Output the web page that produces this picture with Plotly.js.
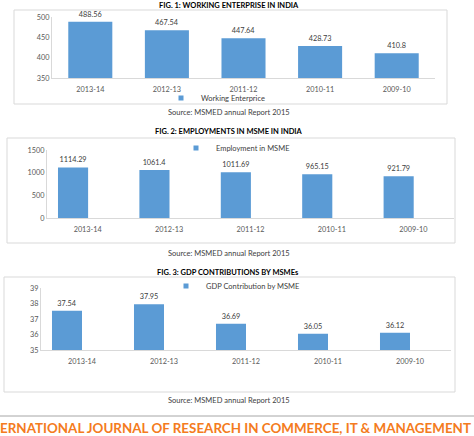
<!DOCTYPE html>
<html>
<head>
<meta charset="utf-8">
<script src="https://cdn.plot.ly/plotly-3.0.1.min.js"></script>
<style>
  html, body { margin: 0; padding: 0; background: #fff; }
  #chart { width: 474px; height: 436px; }
</style>
</head>
<body>
<div id="chart"></div>
<script>
// Financial years shown on every panel
const categories = ['2013-14', '2012-13', '2011-12', '2010-11', '2009-10'];
// Fig. 1: working enterprises (lakh)
const enterprises = [488.56, 467.54, 447.64, 428.73, 410.8];
// Fig. 2: employment in MSME (lakh)
const employment = [1114.29, 1061.4, 1011.69, 965.15, 921.79];
// Fig. 3: share of GDP contributed by MSMEs (%)
const gdpShare = [37.54, 37.95, 36.69, 36.05, 36.12];

const seriesNames = ['Working Enterprice', 'Employment in MSME', 'GDP Contribution by MSME'];
const figTitles = [
  'FIG. 1: WORKING ENTERPRISE IN INDIA',
  'FIG. 2: EMPLOYMENTS IN MSME IN INDIA',
  'FIG. 3: GDP CONTRIBUTIONS BY MSMEs'
];
const sourceNote = 'Source: MSMED annual Report 2015';
const footerText = 'ERNATIONAL JOURNAL OF RESEARCH IN COMMERCE, IT & MANAGEMENT';

const W = 474, H = 436;
const px = v => v / W;          // pixel -> paper x
const py = v => 1 - v / H;      // pixel -> paper y

const BLUE = '#5b9bd5';
const FONT = 'Lato, "Open Sans", sans-serif';
const TXT = '#404040';

function barTrace(values, n, width, offset) {
  const ax = n === 1 ? '' : String(n);
  const t = {
    type: 'bar',
    x: categories,
    y: values,
    xaxis: 'x' + ax,
    yaxis: 'y' + ax,
    marker: { color: BLUE },
    width: width,
    text: values.map(String),
    textposition: 'outside',
    textfont: { family: FONT, size: 7.3, color: TXT },
    cliponaxis: false,
    showlegend: false,
    hoverinfo: 'x+y'
  };
  if (offset !== undefined) t.offset = offset;
  return t;
}

// legend swatch entries (small square marker, no data points)
function legendEntry(name, n) {
  return {
    type: 'scatter', mode: 'markers',
    x: [null], y: [null],
    xaxis: 'x' + (n === 1 ? '' : n), yaxis: 'y' + (n === 1 ? '' : n),
    marker: { symbol: 'square', size: 5, color: BLUE },
    name: name,
    legend: n === 1 ? 'legend' : 'legend' + n,
    showlegend: true,
    hoverinfo: 'skip'
  };
}

const data = [
  barTrace(enterprises, 1, 0.575),
  barTrace(employment, 2, 0.37, -0.365),
  barTrace(gdpShare, 3, 0.366, -0.366),
  legendEntry(seriesNames[0], 1),
  legendEntry(seriesNames[1], 2),
  legendEntry(seriesNames[2], 3)
];

const tickFont = { family: FONT, size: 7.3, color: '#595959' };

function xAxis(x0, x1, anchor) {
  return {
    domain: [px(x0), px(x1)], anchor: anchor,
    type: 'category', showgrid: false, zeroline: false,
    showline: true, linecolor: '#d9d9d9', linewidth: 1,
    ticks: 'outside', ticklen: 4, tickcolor: 'rgba(0,0,0,0)',
    tickfont: tickFont, fixedrange: true
  };
}
function yAxis(yTop, yBot, range, dtick, anchor) {
  return {
    domain: [py(yBot), py(yTop)], anchor: anchor,
    range: range, dtick: dtick, tick0: range[0],
    showgrid: false, zeroline: false,
    showline: true, linecolor: '#d9d9d9', linewidth: 1,
    ticks: '', tickfont: tickFont, fixedrange: true
  };
}

function label(text, xPx, yPx, opts) {
  return Object.assign({
    text: text, xref: 'paper', yref: 'paper',
    x: px(xPx), y: py(yPx), xanchor: 'center', yanchor: 'middle',
    showarrow: false,
    font: { family: FONT, size: 7.5, color: TXT }
  }, opts || {});
}

function box(x0, y0, x1, y1) {
  return {
    type: 'rect', xref: 'paper', yref: 'paper',
    x0: px(x0), x1: px(x1), y0: py(y1), y1: py(y0),
    line: { color: '#d9d9d9', width: 1 }, fillcolor: 'rgba(0,0,0,0)', layer: 'below'
  };
}

function legendBox(xPx, yPx) {
  return {
    x: px(xPx), y: py(yPx), xanchor: 'left', yanchor: 'middle',
    orientation: 'h', bgcolor: 'rgba(0,0,0,0)', borderwidth: 0,
    itemwidth: 30, font: { family: FONT, size: 7.5, color: TXT }
  };
}

const titleFont = { family: FONT, size: 7.5, color: '#000', weight: 'bold' };

const layout = {
  width: W, height: H,
  margin: { l: 0, r: 0, t: 0, b: 0 },
  paper_bgcolor: '#fff', plot_bgcolor: 'rgba(0,0,0,0)',
  bargap: 0.4,
  xaxis: xAxis(52, 435, 'y'),
  yaxis: yAxis(17, 78, [350, 500], 50, 'x'),
  xaxis2: xAxis(47, 454, 'y2'),
  yaxis2: yAxis(150, 218, [0, 1500], 500, 'x2'),
  xaxis3: xAxis(41, 451, 'y3'),
  yaxis3: yAxis(288, 350, [35, 39], 1, 'x3'),
  legend: legendBox(161, 98),
  legend2: legendBox(176, 148),
  legend3: legendBox(166, 286),
  shapes: [
    box(14, 10, 447, 104),
    box(7, 138, 455, 243),
    box(4, 277, 455, 392),
    { type: 'line', xref: 'paper', yref: 'paper', x0: 0, x1: 1, y0: py(416), y1: py(416),
      line: { color: '#a6a6a6', width: 1 } }
  ],
  annotations: [
    label(figTitles[0], 229, 5.5, { font: titleFont }),
    label(sourceNote, 229, 113),
    label(figTitles[1], 229, 132, { font: titleFont }),
    label(sourceNote, 229, 253),
    label(figTitles[2], 228, 272, { font: titleFont }),
    label(sourceNote, 229, 400),
    label(footerText, 473, 428, {
      xanchor: 'right',
      font: { family: FONT, size: 13.4, color: '#f47b20', weight: 'bold' }
    })
  ],
  showlegend: true
};

Plotly.newPlot('chart', data, layout, { displayModeBar: false, staticPlot: true });
</script>
</body>
</html>
